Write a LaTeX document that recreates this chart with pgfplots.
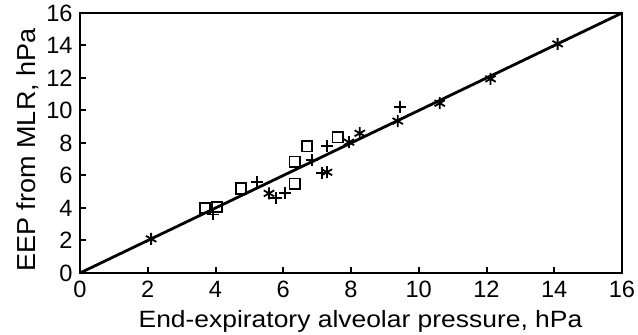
\documentclass[border=0pt]{standalone}
\usepackage{fontspec}
\setmainfont{Liberation Sans}
\usepackage{graphicx}
\usepackage{pgfplots}
\pgfplotsset{compat=1.18}
\begin{document}
\begin{tikzpicture}
\path[use as bounding box] (0,0) rectangle (319pt,167.5pt);
\begin{axis}[
  at={(40pt,31pt)}, anchor=south west,
  scale only axis, width=271pt, height=130pt,
  xmin=0, xmax=16, ymin=0, ymax=16,
  xtick={0,2,...,16}, ytick={0,2,...,16},
  tick align=inside, xtick pos=bottom, ytick pos=left,
  major tick length=3pt,
  axis line style={line width=1.1pt},
  tick style={line width=1pt, black},
  ticklabel style={font=\fontsize{11.8}{13}\selectfont},
  xticklabel style={inner sep=0pt, yshift=-4pt},
  yticklabel style={inner sep=0pt, xshift=-3.5pt},
  /pgf/number format/assume math mode=true,
  xlabel={\scalebox{1.12}[1]{\fontsize{11.8}{13}\selectfont End-expiratory alveolar pressure, hPa}},
  xlabel style={at={(rel axis cs:0.5175,0)}, anchor=base, yshift=-27.5pt, inner sep=0pt},
  ylabel={\scalebox{1.04}[1]{\fontsize{13}{15}\selectfont EEP from MLR, hPa}},
  ylabel style={at={(rel axis cs:-0.083,0.473)}, anchor=base, inner sep=0pt},
  clip=false,
]
\addplot[black, line width=1.4pt] coordinates {(0,0) (16,16)};
% squares
\addplot[only marks, mark=square, mark size=2.6pt, black, mark options={line width=0.9pt}] coordinates {
(3.69,4.0) (4.04,4.05) (4.75,5.2) (6.34,5.5) (6.34,6.85) (6.7,7.8) (7.61,8.35)
};
% pluses
\addplot[only marks, mark=+, mark size=3pt, black, mark options={line width=0.9pt}] coordinates {
(3.92,3.6) (5.22,5.6) (5.78,4.6) (6.05,4.9) (6.84,6.95) (7.29,7.8) (7.14,6.15) (9.44,10.2)
};
% stars
\addplot[only marks, mark=asterisk, mark size=3pt, black, mark options={line width=0.9pt}] coordinates {
(2.1,2.1) (5.58,4.9) (7.29,6.2) (7.94,8.05) (8.26,8.6) (9.38,9.35) (10.62,10.45) (12.12,11.95) (14.1,14.1)
};
\end{axis}
\end{tikzpicture}
\end{document}
